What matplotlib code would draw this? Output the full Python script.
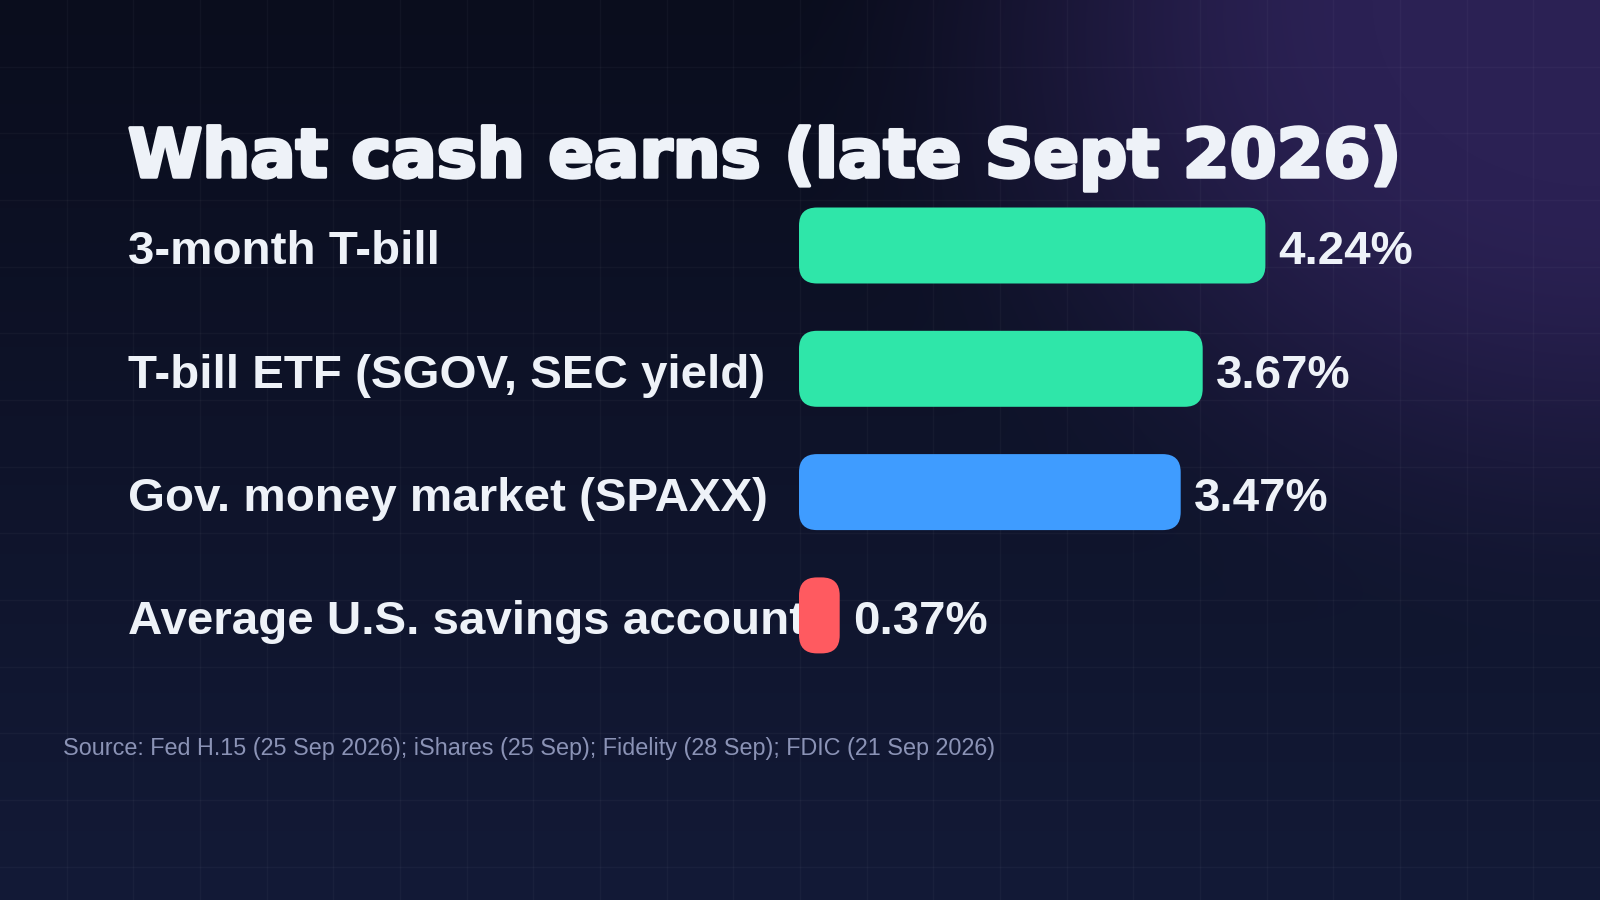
import numpy as np
import matplotlib.pyplot as plt
from matplotlib.patches import FancyBboxPatch
from matplotlib import transforms, patheffects
from matplotlib.colors import to_rgb

categories = ["3-month T-bill", "T-bill ETF (SGOV, SEC yield)",
              "Gov. money market (SPAXX)", "Average U.S. savings account"]
yields = [4.24, 3.67, 3.47, 0.37]
value_labels = ["4.24%", "3.67%", "3.47%", "0.37%"]
bar_colors = ["#2fe6a9", "#2fe6a9", "#3f9cff", "#ff5a60"]
title = "What cash earns (late Sept 2026)"
source = "Source: Fed H.15 (25 Sep 2026); iShares (25 Sep); Fidelity (28 Sep); FDIC (21 Sep 2026)"

W, H = 1600, 900
PX_PER_PCT = 110.0
ROW = 123.3
TXT = "#eef2f8"

fig = plt.figure(figsize=(16, 9), dpi=100)

# background: dark navy with purple glow top right + faint grid
bg = fig.add_axes([0, 0, 1, 1])
bg.set_zorder(0)
yy, xx = np.mgrid[0:H, 0:W]
top = np.array(to_rgb("#0a0d1d"))
bot = np.array(to_rgb("#131a37"))
glow = np.array(to_rgb("#2b2154"))
t = (yy / H)[..., None]
img = top * (1 - t) + bot * t
d = np.sqrt(((xx - W) / 760.0) ** 2 + (yy / 620.0) ** 2)
s = np.clip((d - 0.3) / 0.8, 0, 1)
a = (1 - s * s * (3 - 2 * s))[..., None]
img = img * (1 - a) + glow * a
bg.imshow(img, extent=(0, W, H, 0), aspect="auto", interpolation="bilinear")
step = W / 24
for gx in np.arange(step, W, step):
    bg.axvline(gx, color="white", alpha=0.032, lw=1)
for gy in np.arange(step, H, step):
    bg.axhline(gy, color="white", alpha=0.032, lw=1)
bg.set_xlim(0, W)
bg.set_ylim(H, 0)
bg.axis("off")

# bar axes (above the category labels, so the small bar covers the label end)
x0 = 799
yc0 = 245.5
ax_top = yc0 - ROW / 2
ax_h = ROW * len(categories)
ax = fig.add_axes([x0 / W, 1 - (ax_top + ax_h) / H, (W - x0) / W, ax_h / H])
ax.set_zorder(2)
ax.set_xlim(0, (W - x0) / PX_PER_PCT)
ax.set_ylim(len(categories) - 0.5, -0.5)
ax.axis("off")
ax.patch.set_alpha(0)

ypos = np.arange(len(categories))
bh = 76 / ROW
bars = ax.barh(ypos, yields, height=bh, visible=False)
aspect = PX_PER_PCT / ROW
for rect, col in zip(bars, bar_colors):
    w = rect.get_width()
    r = min(18 / PX_PER_PCT, w / 2)
    p = FancyBboxPatch((rect.get_x(), rect.get_y()), w, rect.get_height(),
                       boxstyle=f"round,pad=0,rounding_size={r}",
                       mutation_aspect=aspect, fc=col, ec="none", zorder=3)
    ax.add_patch(p)

shift = transforms.ScaledTranslation(0, -0.19, fig.dpi_scale_trans)
lab_tr = transforms.blended_transform_factory(fig.transFigure, ax.transData) + shift
for y, lab in zip(ypos, categories):
    fig.text(128 / W, y, lab, transform=lab_tr, fontsize=34.2, fontweight="bold",
             family="Liberation Sans", color=TXT, va="baseline", ha="left", zorder=1)
for y, v, lab in zip(ypos, yields, value_labels):
    ax.text(v + 13 / PX_PER_PCT, y, lab, transform=ax.transData + shift, fontsize=34.2,
            fontweight="bold", family="Liberation Sans", color=TXT, va="baseline", ha="left")

fig.text(128 / W, 1 - 177 / H, title, fontsize=48.5, fontweight="bold", family="DejaVu Sans",
         color=TXT, va="baseline", ha="left", zorder=1,
         path_effects=[patheffects.withStroke(linewidth=2.5, foreground=TXT)])

fig.text(63 / W, 1 - 755 / H, source, fontsize=16.8, family="Liberation Sans",
         color="#8b93b6", va="baseline", ha="left", zorder=1)

fig.savefig("out.png", dpi=100)
